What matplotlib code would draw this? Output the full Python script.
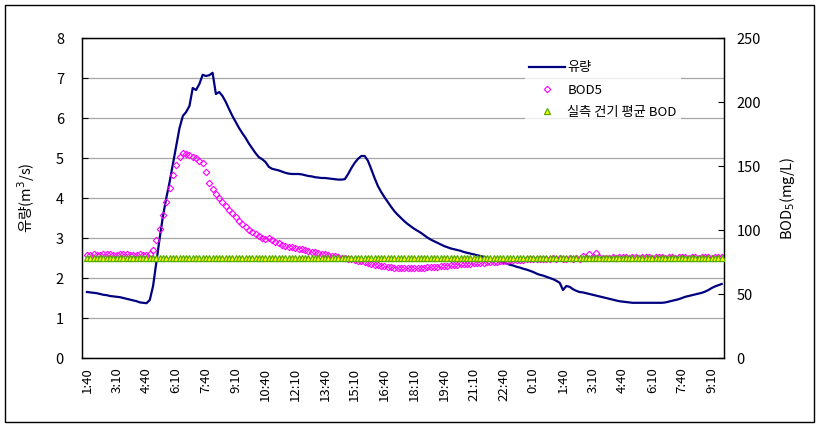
import matplotlib
matplotlib.use("Agg")
import matplotlib.pyplot as plt
from matplotlib.patches import Rectangle
import numpy as np

plt.rcParams['font.family'] = ['Noto Sans CJK KR', 'DejaVu Sans']
plt.rcParams['mathtext.fontset'] = 'dejavusans'

# ---- data (10-minute records starting at 1:40) ----
flow = [1.65, 1.64, 1.63, 1.62, 1.60, 1.58, 1.57, 1.55, 1.54, 1.53,
        1.52, 1.50, 1.48, 1.46, 1.44, 1.42, 1.39, 1.38, 1.37, 1.45,
        1.80, 2.40, 3.00, 3.55, 4.00, 4.40, 4.85, 5.30, 5.75, 6.05,
        6.15, 6.30, 6.75, 6.70, 6.85, 7.08, 7.05, 7.07, 7.13, 6.60,
        6.65, 6.55, 6.40, 6.22, 6.05, 5.90, 5.75, 5.62, 5.50, 5.36,
        5.24, 5.12, 5.02, 4.97, 4.90, 4.78, 4.73, 4.71, 4.69, 4.66,
        4.63, 4.61, 4.60, 4.60, 4.60, 4.59, 4.57, 4.55, 4.54, 4.52,
        4.51, 4.50, 4.50, 4.49, 4.48, 4.47, 4.46, 4.46, 4.47, 4.60,
        4.75, 4.88, 4.98, 5.05, 5.05, 4.93, 4.72, 4.50, 4.30, 4.15,
        4.02, 3.90, 3.78, 3.67, 3.58, 3.50, 3.42, 3.35, 3.29, 3.23,
        3.18, 3.13, 3.07, 3.01, 2.96, 2.92, 2.88, 2.84, 2.80, 2.77,
        2.74, 2.72, 2.70, 2.68, 2.65, 2.63, 2.61, 2.59, 2.57, 2.55,
        2.53, 2.50, 2.48, 2.45, 2.43, 2.41, 2.38, 2.36, 2.33, 2.31,
        2.28, 2.26, 2.23, 2.21, 2.18, 2.15, 2.11, 2.08, 2.06, 2.03,
        2.00, 1.97, 1.93, 1.88, 1.70, 1.80, 1.78, 1.72, 1.68, 1.65,
        1.64, 1.62, 1.60, 1.58, 1.56, 1.54, 1.52, 1.50, 1.48, 1.46,
        1.44, 1.42, 1.41, 1.40, 1.39, 1.38, 1.38, 1.38, 1.38, 1.38,
        1.38, 1.38, 1.38, 1.38, 1.38, 1.39, 1.41, 1.43, 1.45, 1.47,
        1.50, 1.53, 1.55, 1.57, 1.59, 1.61, 1.63, 1.66, 1.70, 1.75,
        1.79, 1.82, 1.85]

bod5 = [80.5, 80.8, 81.0, 80.7, 80.5, 80.9, 81.2, 81.0, 80.6, 80.8,
        81.0, 81.3, 81.0, 80.7, 80.5, 80.8, 81.0, 80.6, 80.5, 81.5,
        84.0, 92.0, 101.0, 112.0, 122.0, 133.0, 143.0, 151.0, 157.0, 160.0,
        159.0, 158.5, 157.0, 156.0, 154.0, 152.5, 145.0, 137.0, 132.0, 128.0,
        125.0, 122.0, 119.0, 116.0, 113.0, 110.0, 107.0, 105.0, 102.5, 100.0,
        98.5, 97.0, 95.5, 94.0, 93.0, 93.5, 92.0, 90.5, 89.5, 88.5,
        87.5, 87.0, 86.5, 86.0, 85.5, 85.0, 84.0, 83.5, 83.0, 82.5,
        82.0, 81.5, 81.0, 80.5, 80.0, 79.5, 79.0, 78.5, 78.0, 77.5,
        77.0, 76.5, 76.0, 75.5, 75.0, 74.0, 73.5, 73.0, 72.5, 72.0,
        71.5, 71.0, 70.8, 70.5, 70.3, 70.2, 70.2, 70.3, 70.3, 70.4,
        70.5, 70.5, 70.6, 70.8, 70.8, 71.0, 71.2, 71.5, 72.0, 72.2,
        72.5, 72.8, 73.0, 73.2, 73.5, 73.6, 73.8, 74.0, 74.0, 74.3,
        74.5, 74.8, 75.0, 75.2, 75.3, 75.6, 75.8, 76.0, 76.2, 76.3,
        76.5, 76.7, 76.8, 77.0, 77.1, 77.2, 77.3, 77.4, 77.5, 77.5,
        77.6, 77.8, 77.5, 78.0, 77.5, 77.6, 77.8, 77.5, 78.0, 77.6,
        79.5, 78.0, 81.0, 78.5, 82.0, 79.0, 78.5, 78.2, 78.5, 78.8,
        78.4, 78.6, 79.0, 78.7, 78.5, 78.9, 78.6, 78.4, 78.7, 79.0,
        78.8, 78.5, 78.6, 78.9, 78.7, 78.5, 78.8, 78.6, 78.4, 78.7,
        78.9, 78.6, 78.5, 78.8, 78.7, 78.5, 78.9, 78.6, 78.8, 78.5,
        78.7, 78.9, 78.6]

bod_avg_value = 78.3
bod_avg = [bod_avg_value] * len(flow)

tick_labels = ['1:40', '3:10', '4:40', '6:10', '7:40', '9:10', '10:40', '12:10',
               '13:40', '15:10', '16:40', '18:10', '19:40', '21:10', '22:40', '0:10',
               '1:40', '3:10', '4:40', '6:10', '7:40', '9:10']

legend_labels = ['유량', 'BOD5', '실측 건기 평균 BOD']

# ---- figure ----
W, H = 820, 429
fig = plt.figure(figsize=(W / 100, H / 100), dpi=100)
ax = fig.add_axes([82 / W, 1 - 358 / H, (724 - 82) / W, (358 - 38) / H])
ax2 = ax.twinx()

x = np.arange(len(flow))
l1, = ax.plot(x, flow, color='#000080', lw=1.6, zorder=3)
l2, = ax2.plot(x, bod5, linestyle='none', marker='D', markersize=3.3,
               mfc='none', mec='#FF00FF', mew=0.8, zorder=2)
l3, = ax2.plot(x, bod_avg, linestyle='none', marker='^', markersize=4.8,
               mfc='#FFFF00', mec='#55AA00', mew=0.9, zorder=3)

ax.set_xlim(-1.5, len(flow) - 0.3)
ax.set_ylim(0, 8)
ax2.set_ylim(0, 250)
ax.set_yticks(np.arange(0, 9, 1))
ax2.set_yticks(np.arange(0, 251, 50))
ax.set_xticks(np.arange(0, len(flow), 9)[:len(tick_labels)])
ax.set_xticklabels(tick_labels, rotation=90, fontsize=9.5)

ax.grid(axis='y', color='#A6A6A6', lw=0.9)
ax.set_axisbelow(True)
ax.tick_params(axis='x', length=0, pad=7)
ax.tick_params(axis='y', direction='in', length=4, labelsize=10.5, pad=13)
ax2.tick_params(axis='y', direction='in', length=4, labelsize=10.5, pad=9)

for a in (ax, ax2):
    for s in a.spines.values():
        s.set_color('black')
        s.set_linewidth(0.9)

ax.set_ylabel('유량(m$^3$/s)', fontsize=10.5)
ax.yaxis.set_label_coords(-0.07, 0.5)
ax2.set_ylabel('BOD$_5$(mg/L)', fontsize=10.5)
ax2.yaxis.set_label_coords(1.084, 0.5)

leg = ax2.legend([l1, l2, l3], legend_labels, loc='upper left',
                 bbox_to_anchor=(0.68, 0.96), frameon=True, fontsize=9.5,
                 handlelength=2.7, handletextpad=0.2, labelspacing=0.7,
                 borderpad=0.3, fancybox=False)
leg.get_frame().set_facecolor('white')
leg.get_frame().set_edgecolor('none')

# outer chart border
fig.patches.append(Rectangle((5 / W, 1 - 422 / H), (814 - 5) / W, (422 - 5) / H,
                             transform=fig.transFigure, fill=False,
                             edgecolor='black', lw=1.0))

fig.savefig('out.png', dpi=100)
